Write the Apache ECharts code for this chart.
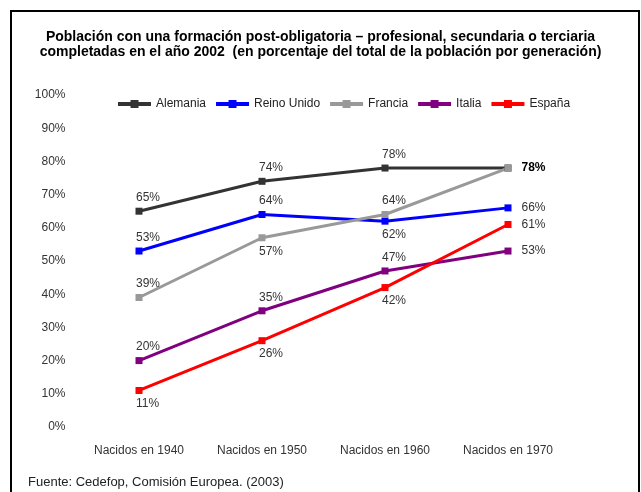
<!DOCTYPE html>
<html>
<head>
<meta charset="utf-8">
<script src="https://cdn.jsdelivr.net/npm/echarts@6/dist/echarts.min.js"></script>
<style>
  html, body { margin: 0; padding: 0; background: #fff; }
  #main { width: 641px; height: 492px; }
</style>
</head>
<body>
<div id="main"></div>
<script>
var categories = ['Nacidos en 1940', 'Nacidos en 1950', 'Nacidos en 1960', 'Nacidos en 1970'];
var alemania = [65, 74, 78, 78];
var reinoUnido = [53, 64, 62, 66];
var francia = [39, 57, 64, 78];
var italia = [20, 35, 47, 53];
var espana = [11, 26, 42, 61];

var FONT = '"Liberation Sans Narrow", "Liberation Sans", Arial, sans-serif';

// donde va cada etiqueta: t = arriba, b = abajo, r = derecha, n = ninguna, rb = derecha en negrita
function makeData(values, pos) {
    return values.map(function (v, i) {
        var p = pos[i];
        var lab;
        if (p == 'n') lab = { show: false };
        else if (p == 't') lab = { position: 'top', align: 'left', offset: [-3, 0], distance: 4 };
        else if (p == 'b') lab = { position: 'bottom', align: 'left', offset: [-3, 0], distance: 4 };
        else if (p == 'rb') lab = { position: 'right', distance: 10, fontWeight: 'bold', color: '#000' };
        else lab = { position: 'right', distance: 10 };
        return { value: v, label: lab };
    });
}

function serie(name, color, values, pos) {
    return {
        name: name,
        type: 'line',
        data: makeData(values, pos),
        symbol: 'rect',
        symbolSize: 7,
        lineStyle: { color: color, width: 3 },
        itemStyle: { color: color },
        label: {
            show: true,
            formatter: '{c}%',
            fontFamily: FONT,
            fontSize: 12,
            color: '#333'
        },
        emphasis: { disabled: true }
    };
}

var myChart = echarts.init(document.getElementById('main'));
var option = {
    animation: false,
    title: {
        text: 'Población con una formación post-obligatoria – profesional, secundaria o terciaria\ncompletadas en el año 2002  (en porcentaje del total de la población por generación)',
        left: 'center',
        top: 25,
        textStyle: { fontFamily: FONT, fontSize: 14, fontWeight: 'bold', color: '#000', lineHeight: 15 }
    },
    legend: {
        left: 111,
        top: 93,
        itemWidth: 33,
        itemHeight: 10,
        itemGap: 8,
        lineStyle: { width: 4 },
        textStyle: { fontFamily: FONT, fontSize: 12, color: '#222' },
        data: ['Alemania', 'Reino Unido', 'Francia', 'Italia', 'España']
    },
    graphic: [
        {
            type: 'rect',
            shape: { x: 11, y: 11, width: 628, height: 520 },
            style: { fill: 'none', stroke: '#000', lineWidth: 2 },
            silent: true
        },
        {
            type: 'text',
            left: 28,
            top: 476,
            style: { text: 'Fuente: Cedefop, Comisión Europea. (2003)', font: '13px ' + FONT, fill: '#222' }
        }
    ],
    grid: { left: 77.5, right: 71.5, top: 95, bottom: 65 },
    xAxis: {
        type: 'category',
        data: categories,
        axisLine: { show: false },
        axisTick: { show: false },
        axisLabel: { margin: 18, fontFamily: FONT, fontSize: 12, color: '#333' }
    },
    yAxis: {
        type: 'value',
        min: 0,
        max: 100,
        interval: 10,
        splitLine: { show: false },
        axisLine: { show: false },
        axisTick: { show: false },
        axisLabel: { formatter: '{value}%', margin: 12, fontFamily: FONT, fontSize: 12, color: '#333' }
    },
    series: [
        serie('Alemania', '#333333', alemania, ['t', 't', 't', 'n']),
        serie('Reino Unido', '#0000ff', reinoUnido, ['t', 't', 'b', 'r']),
        serie('Francia', '#999999', francia, ['t', 'b', 't', 'rb']),
        serie('Italia', '#800080', italia, ['t', 't', 't', 'r']),
        serie('España', '#ff0000', espana, ['b', 'b', 'b', 'r'])
    ]
};
myChart.setOption(option);
</script>
</body>
</html>
